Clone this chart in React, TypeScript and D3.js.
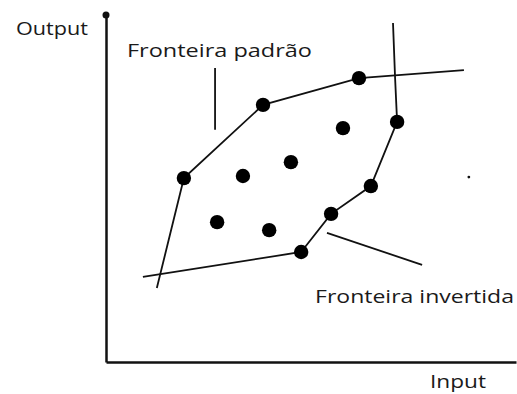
import { useEffect, useRef } from 'react'
import * as d3 from 'd3'

// DMU observations (input, output) in arbitrary units
const inputs = [19.0, 38.3, 61.7, 57.8, 71.0, 45.1, 33.4, 64.6, 27.1, 39.8, 54.9, 47.6]
const outputs = [53.0, 74.1, 81.8, 67.4, 69.2, 57.6, 53.6, 50.7, 40.3, 38.0, 42.7, 31.7]

// standard (upper) frontier
const standardX = [12.4, 19.0, 38.3, 61.7, 87.3]
const standardY = [21.3, 53.0, 74.1, 81.8, 84.1]

// inverted (lower) frontier
const invertedX = [9.0, 47.6, 54.9, 64.6, 71.0, 70.5, 70.0]
const invertedY = [24.5, 31.7, 42.7, 50.7, 69.2, 82.1, 97.7]

// label pointers
const pointerStdX = [26.6, 26.6]
const pointerStdY = [84.7, 66.9]
const pointerInvX = [53.9, 77.1]
const pointerInvY = [37.2, 28.0]

const axisLabels = ['Output', 'Input']
const frontierLabels = ['Fronteira padrão', 'Fronteira invertida']

export default function App() {
  const svgRef = useRef<SVGSVGElement | null>(null)

  useEffect(() => {
    if (!svgRef.current) return
    const width = 517
    const height = 394

    const svg = d3.select(svgRef.current)
    svg.selectAll('*').remove()
    svg.attr('width', width).attr('height', height).attr('viewBox', `0 0 ${width} ${height}`)

    const x = d3.scaleLinear().domain([0, 100]).range([106, 516])
    const y = d3.scaleLinear().domain([0, 100]).range([362, 15])

    const ink = '#111'

    // axes: bare domain lines, no ticks
    svg.append('g')
      .attr('transform', `translate(0,${y(0)})`)
      .call(d3.axisBottom(x).tickValues([]).tickSizeOuter(0).tickSizeInner(0))
      .call(g => g.select('.domain').attr('stroke', ink).attr('stroke-width', 2.5))
    svg.append('g')
      .attr('transform', `translate(${x(0)},0)`)
      .call(d3.axisLeft(y).tickValues([]).tickSizeOuter(0).tickSizeInner(0))
      .call(g => g.select('.domain').attr('stroke', ink).attr('stroke-width', 2.5))

    svg.append('circle')
      .attr('cx', x(0)).attr('cy', y(100)).attr('r', 3.5).attr('fill', ink)

    const line = d3.line<[number, number]>()
      .x(d => x(d[0]))
      .y(d => y(d[1]))

    const drawPath = (xs: number[], ys: number[], w: number) => {
      svg.append('path')
        .datum(xs.map((v, i) => [v, ys[i]] as [number, number]))
        .attr('d', line)
        .attr('fill', 'none')
        .attr('stroke', ink)
        .attr('stroke-width', w)
    }

    drawPath(standardX, standardY, 1.8)
    drawPath(invertedX, invertedY, 1.8)
    drawPath(pointerStdX, pointerStdY, 1.8)
    drawPath(pointerInvX, pointerInvY, 1.8)

    svg.selectAll('.dmu')
      .data(inputs.map((v, i) => [v, outputs[i]]))
      .join('circle')
      .attr('class', 'dmu')
      .attr('cx', d => x(d[0]))
      .attr('cy', d => y(d[1]))
      .attr('r', 7.2)
      .attr('fill', '#000')

    // stray speck in the original drawing
    svg.append('circle')
      .attr('cx', x(88.5)).attr('cy', y(53.3)).attr('r', 1.4).attr('fill', ink)

    const font = '"Open Sans", "DejaVu Sans", sans-serif'
    const label = (t: string, px: number, py: number, len: number) => {
      svg.append('text')
        .attr('x', px).attr('y', py)
        .attr('font-family', font)
        .attr('font-size', 19)
        .attr('fill', '#1a1a1a')
        .attr('textLength', len)
        .attr('lengthAdjust', 'spacingAndGlyphs')
        .text(t)
    }

    label(axisLabels[0], 16, 35, 72)
    label(axisLabels[1], 430, 388, 56)
    label(frontierLabels[0], 127, 57, 185)
    label(frontierLabels[1], 315, 303, 199)
  }, [])

  return (
    <div style={{ position: 'absolute', left: 0, top: 0, background: '#fff' }}>
      <svg ref={svgRef} style={{ display: 'block' }}></svg>
    </div>
  )
}
